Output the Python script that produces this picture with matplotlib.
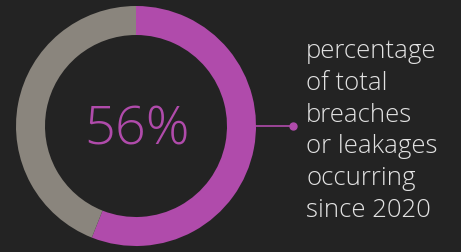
import matplotlib
matplotlib.use("Agg")
import matplotlib.pyplot as plt

categories = ["since 2020", "other"]
values = [56, 44]
colors = ["#b04bab", "#8a857d"]
center_label = "56%"
label_lines = ["percentage", "of total", "breaches", "or leakages", "occurring", "since 2020"]

W, H = 461, 253
bg = "#232323"
fig = plt.figure(figsize=(W / 100, H / 100), dpi=100, facecolor=bg)
ax = fig.add_axes([0, 0, 1, 1])
ax.set_facecolor(bg)
ax.set_xlim(0, W)
ax.set_ylim(0, H)
ax.set_aspect("equal")
ax.axis("off")

cx, cy, R = 136, H - 127, 120
ax.pie(values, colors=colors, startangle=90, counterclock=False,
       center=(cx, cy), radius=R, wedgeprops=dict(width=29, linewidth=0))
ax.set_xlim(0, W)
ax.set_ylim(0, H)

ax.text(cx + 1, cy - 4, center_label, color=colors[0], fontsize=39,
        family="Open Sans", weight="light", ha="center", va="center")

ax.plot([cx + R, 293], [cy, cy], color=colors[0], lw=1.2)
ax.plot([293], [cy], "o", color=colors[0], ms=5)

for i, line in enumerate(label_lines):
    ax.text(306, H - (58 + 31.8 * i), line, color="#e2e2e2", fontsize=18.5,
            family="Open Sans", weight="light", ha="left", va="baseline")

fig.savefig("out.png", dpi=100, facecolor=bg)
